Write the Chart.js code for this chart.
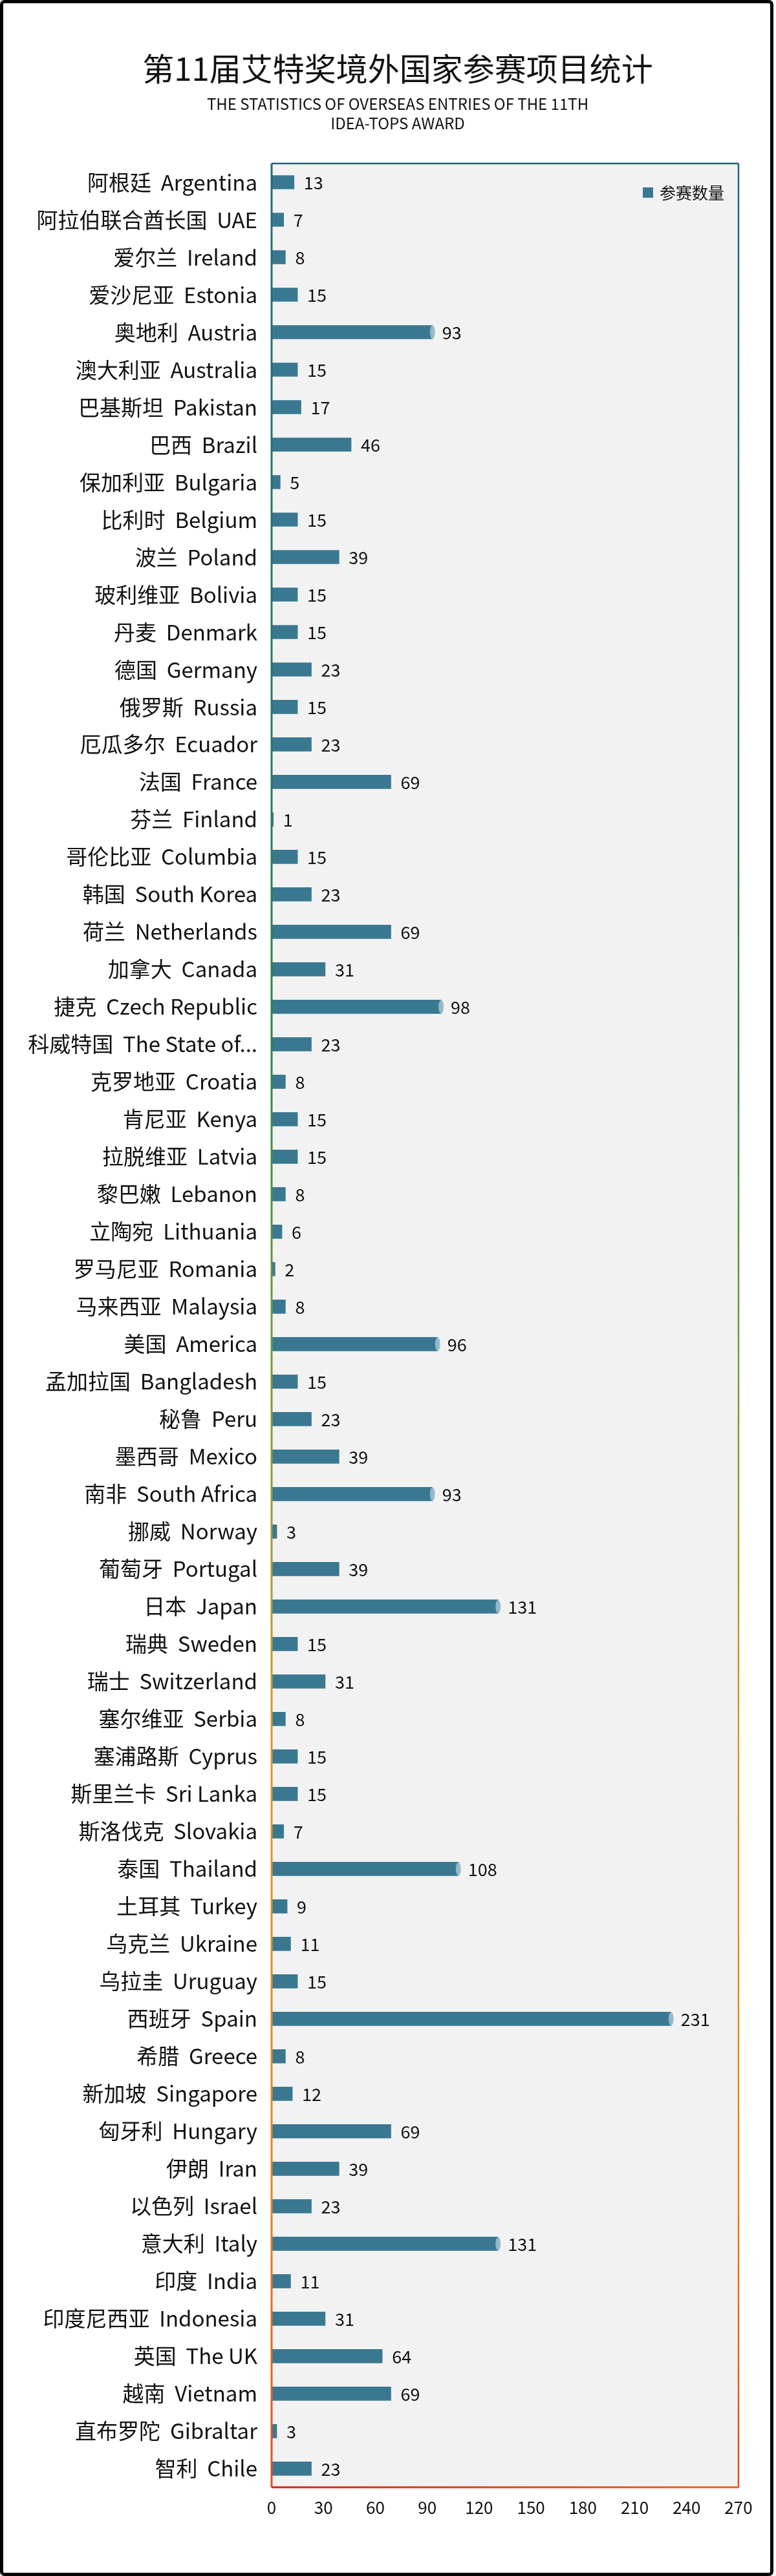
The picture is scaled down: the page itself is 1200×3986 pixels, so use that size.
<!DOCTYPE html>
<html>
<head>
<meta charset="utf-8">
<script src="https://cdn.jsdelivr.net/npm/chart.js@4/dist/chart.umd.min.js"></script>
<style>
  html, body { margin: 0; padding: 0; background: #fff; }
  #wrap { position: relative; width: 1200px; height: 3986px; font-family: 'Noto Sans CJK SC', 'Noto Sans', sans-serif; color: #111; }
  #frame {
    position: absolute; left: 0; top: 0; width: 1186px; height: 3976px;
    border: 5px solid #000; border-radius: 7px; pointer-events: none;
  }
  .head { position: absolute; left: 15px; width: 1200px; text-align: center; white-space: nowrap; }
  #title { top: 74px; font-size: 49px; line-height: 59px; }
  #subtitle { top: 145px; font-size: 24px; line-height: 30px; }
</style>
</head>
<body>
<div id="wrap">
  <canvas id="entries"></canvas>
  <div id="title" class="head"></div>
  <div id="subtitle" class="head"></div>
  <div id="frame"></div>
</div>
<script>
var namesCn = ["阿根廷", "阿拉伯联合酋长国", "爱尔兰", "爱沙尼亚", "奥地利", "澳大利亚", "巴基斯坦", "巴西",
  "保加利亚", "比利时", "波兰", "玻利维亚", "丹麦", "德国", "俄罗斯", "厄瓜多尔", "法国", "芬兰",
  "哥伦比亚", "韩国", "荷兰", "加拿大", "捷克", "科威特国", "克罗地亚", "肯尼亚", "拉脱维亚", "黎巴嫩",
  "立陶宛", "罗马尼亚", "马来西亚", "美国", "孟加拉国", "秘鲁", "墨西哥", "南非", "挪威", "葡萄牙",
  "日本", "瑞典", "瑞士", "塞尔维亚", "塞浦路斯", "斯里兰卡", "斯洛伐克", "泰国", "土耳其", "乌克兰",
  "乌拉圭", "西班牙", "希腊", "新加坡", "匈牙利", "伊朗", "以色列", "意大利", "印度", "印度尼西亚",
  "英国", "越南", "直布罗陀", "智利"];

var namesEn = ["Argentina", "UAE", "Ireland", "Estonia", "Austria", "Australia", "Pakistan", "Brazil",
  "Bulgaria", "Belgium", "Poland", "Bolivia", "Denmark", "Germany", "Russia", "Ecuador", "France", "Finland",
  "Columbia", "South Korea", "Netherlands", "Canada", "Czech Republic", "The State of...", "Croatia", "Kenya",
  "Latvia", "Lebanon", "Lithuania", "Romania", "Malaysia", "America", "Bangladesh", "Peru", "Mexico",
  "South Africa", "Norway", "Portugal", "Japan", "Sweden", "Switzerland", "Serbia", "Cyprus", "Sri Lanka",
  "Slovakia", "Thailand", "Turkey", "Ukraine", "Uruguay", "Spain", "Greece", "Singapore", "Hungary", "Iran",
  "Israel", "Italy", "India", "Indonesia", "The UK", "Vietnam", "Gibraltar", "Chile"];

var entries = [13, 7, 8, 15, 93, 15, 17, 46, 5, 15, 39, 15, 15, 23, 15, 23, 69, 1,
  15, 23, 69, 31, 98, 23, 8, 15, 15, 8, 6, 2, 8, 96, 15, 23, 39, 93, 3, 39,
  131, 15, 31, 8, 15, 15, 7, 108, 9, 11, 15, 231, 8, 12, 69, 39, 23, 131, 11, 31,
  64, 69, 3, 23];

var xTicks = [0, 30, 60, 90, 120, 150, 180, 210, 240, 270];

var seriesName = "参赛数量";
var titleText = "第11届艾特奖境外国家参赛项目统计";
var subtitleLines = ["THE STATISTICS OF OVERSEAS ENTRIES OF THE 11TH", "IDEA-TOPS AWARD"];

document.getElementById("title").textContent = titleText;
document.getElementById("subtitle").innerHTML = subtitleLines.join("<br>");

var labels = [];
for (var i = 0; i < namesCn.length; i++) {
  labels.push(namesCn[i] + "  " + namesEn[i]);
}

var FONT = "'Noto Sans CJK SC', 'Noto Sans', sans-serif";
var barColor = "#3a7891";

// grey plot background + gradient frame round the plot
var plotFrame = {
  id: "plotFrame",
  beforeDraw: function(chart) {
    var a = chart.chartArea, ctx = chart.ctx;
    ctx.save();
    ctx.fillStyle = "#f2f2f2";
    ctx.fillRect(a.left, a.top, a.right - a.left, a.bottom - a.top);
    ctx.restore();
  },
  afterDatasetsDraw: function(chart) {
    var a = chart.chartArea, ctx = chart.ctx;
    var g = ctx.createLinearGradient(0, a.top, 0, a.bottom);
    g.addColorStop(0, "#1d6a7c");
    g.addColorStop(0.38, "#2b8446");
    g.addColorStop(0.5, "#6a9a3c");
    g.addColorStop(0.68, "#d89a22");
    g.addColorStop(0.88, "#e8801a");
    g.addColorStop(1, "#e04a18");
    ctx.save();
    ctx.strokeStyle = g;
    ctx.lineWidth = 3;
    ctx.beginPath();
    ctx.moveTo(a.left, a.top);
    ctx.lineTo(a.left, a.bottom);
    ctx.stroke();
    ctx.lineWidth = 2.5;
    ctx.beginPath();
    ctx.moveTo(a.right, a.top);
    ctx.lineTo(a.right, a.bottom);
    ctx.stroke();
    ctx.strokeStyle = "#1d6278";
    ctx.beginPath();
    ctx.moveTo(a.left, a.top);
    ctx.lineTo(a.right, a.top);
    ctx.stroke();
    var gb = ctx.createLinearGradient(a.left, 0, a.right, 0);
    gb.addColorStop(0, "#d8281a");
    gb.addColorStop(1, "#e86a1a");
    ctx.strokeStyle = gb;
    ctx.lineWidth = 3;
    ctx.beginPath();
    ctx.moveTo(a.left, a.bottom);
    ctx.lineTo(a.right, a.bottom);
    ctx.stroke();
    ctx.restore();
  }
};

// light end caps on the long bars, value labels, and the legend in the top right of the plot
var barLabels = {
  id: "barLabels",
  afterDatasetsDraw: function(chart) {
    var ctx = chart.ctx;
    var meta = chart.getDatasetMeta(0);
    ctx.save();
    meta.data.forEach(function(bar, idx) {
      var w = bar.x - bar.base;
      if (w > 200) {
        ctx.fillStyle = "rgba(150,185,202,0.95)";
        ctx.beginPath();
        ctx.ellipse(bar.x, bar.y, 4, bar.height / 2, 0, 0, Math.PI * 2);
        ctx.fill();
      }
      ctx.fillStyle = "#111";
      ctx.font = "27px " + FONT;
      ctx.textAlign = "left";
      ctx.textBaseline = "middle";
      ctx.fillText(String(entries[idx]), bar.x + 15, bar.y + 1);
    });

    var a = chart.chartArea;
    var ds = chart.data.datasets[0];
    ctx.font = "25px " + FONT;
    var tw = ctx.measureText(ds.label).width;
    var tx = a.right - 22 - tw;
    var ly = a.top + 45;
    ctx.fillStyle = ds.backgroundColor;
    ctx.fillRect(tx - 26, ly - 8, 16, 16);
    ctx.fillStyle = "#111";
    ctx.textAlign = "left";
    ctx.textBaseline = "middle";
    ctx.fillText(ds.label, tx, ly);
    ctx.restore();
  }
};

var ctx = document.getElementById("entries").getContext("2d");
var chart = new Chart(ctx, {
  type: "bar",
  data: {
    labels: labels,
    datasets: [{
      label: seriesName,
      data: entries,
      backgroundColor: barColor,
      borderWidth: 0,
      barThickness: 21
    }]
  },
  plugins: [plotFrame, barLabels],
  options: {
    indexAxis: "y",
    responsive: true,
    maintainAspectRatio: false,
    devicePixelRatio: 1,
    animation: false,
    layout: { padding: { left: 0, right: 58, top: 253, bottom: 74 } },
    scales: {
      x: {
        min: 0,
        max: 270,
        afterBuildTicks: function(scale) {
          scale.ticks = xTicks.map(function(v) { return { value: v }; });
        },
        grid: { display: false, drawTicks: false },
        border: { display: false },
        ticks: {
          padding: 16,
          color: "#111",
          font: { family: FONT, size: 26 }
        }
      },
      y: {
        grid: { display: false, drawTicks: false },
        border: { display: false },
        afterFit: function(scale) { scale.width = 420; },
        ticks: {
          autoSkip: false,
          padding: 22,
          color: "#111",
          font: { family: FONT, size: 33 }
        }
      }
    },
    plugins: {
      title: { display: false },
      legend: { display: false },
      tooltip: { enabled: false }
    }
  }
});
</script>
</body>
</html>
